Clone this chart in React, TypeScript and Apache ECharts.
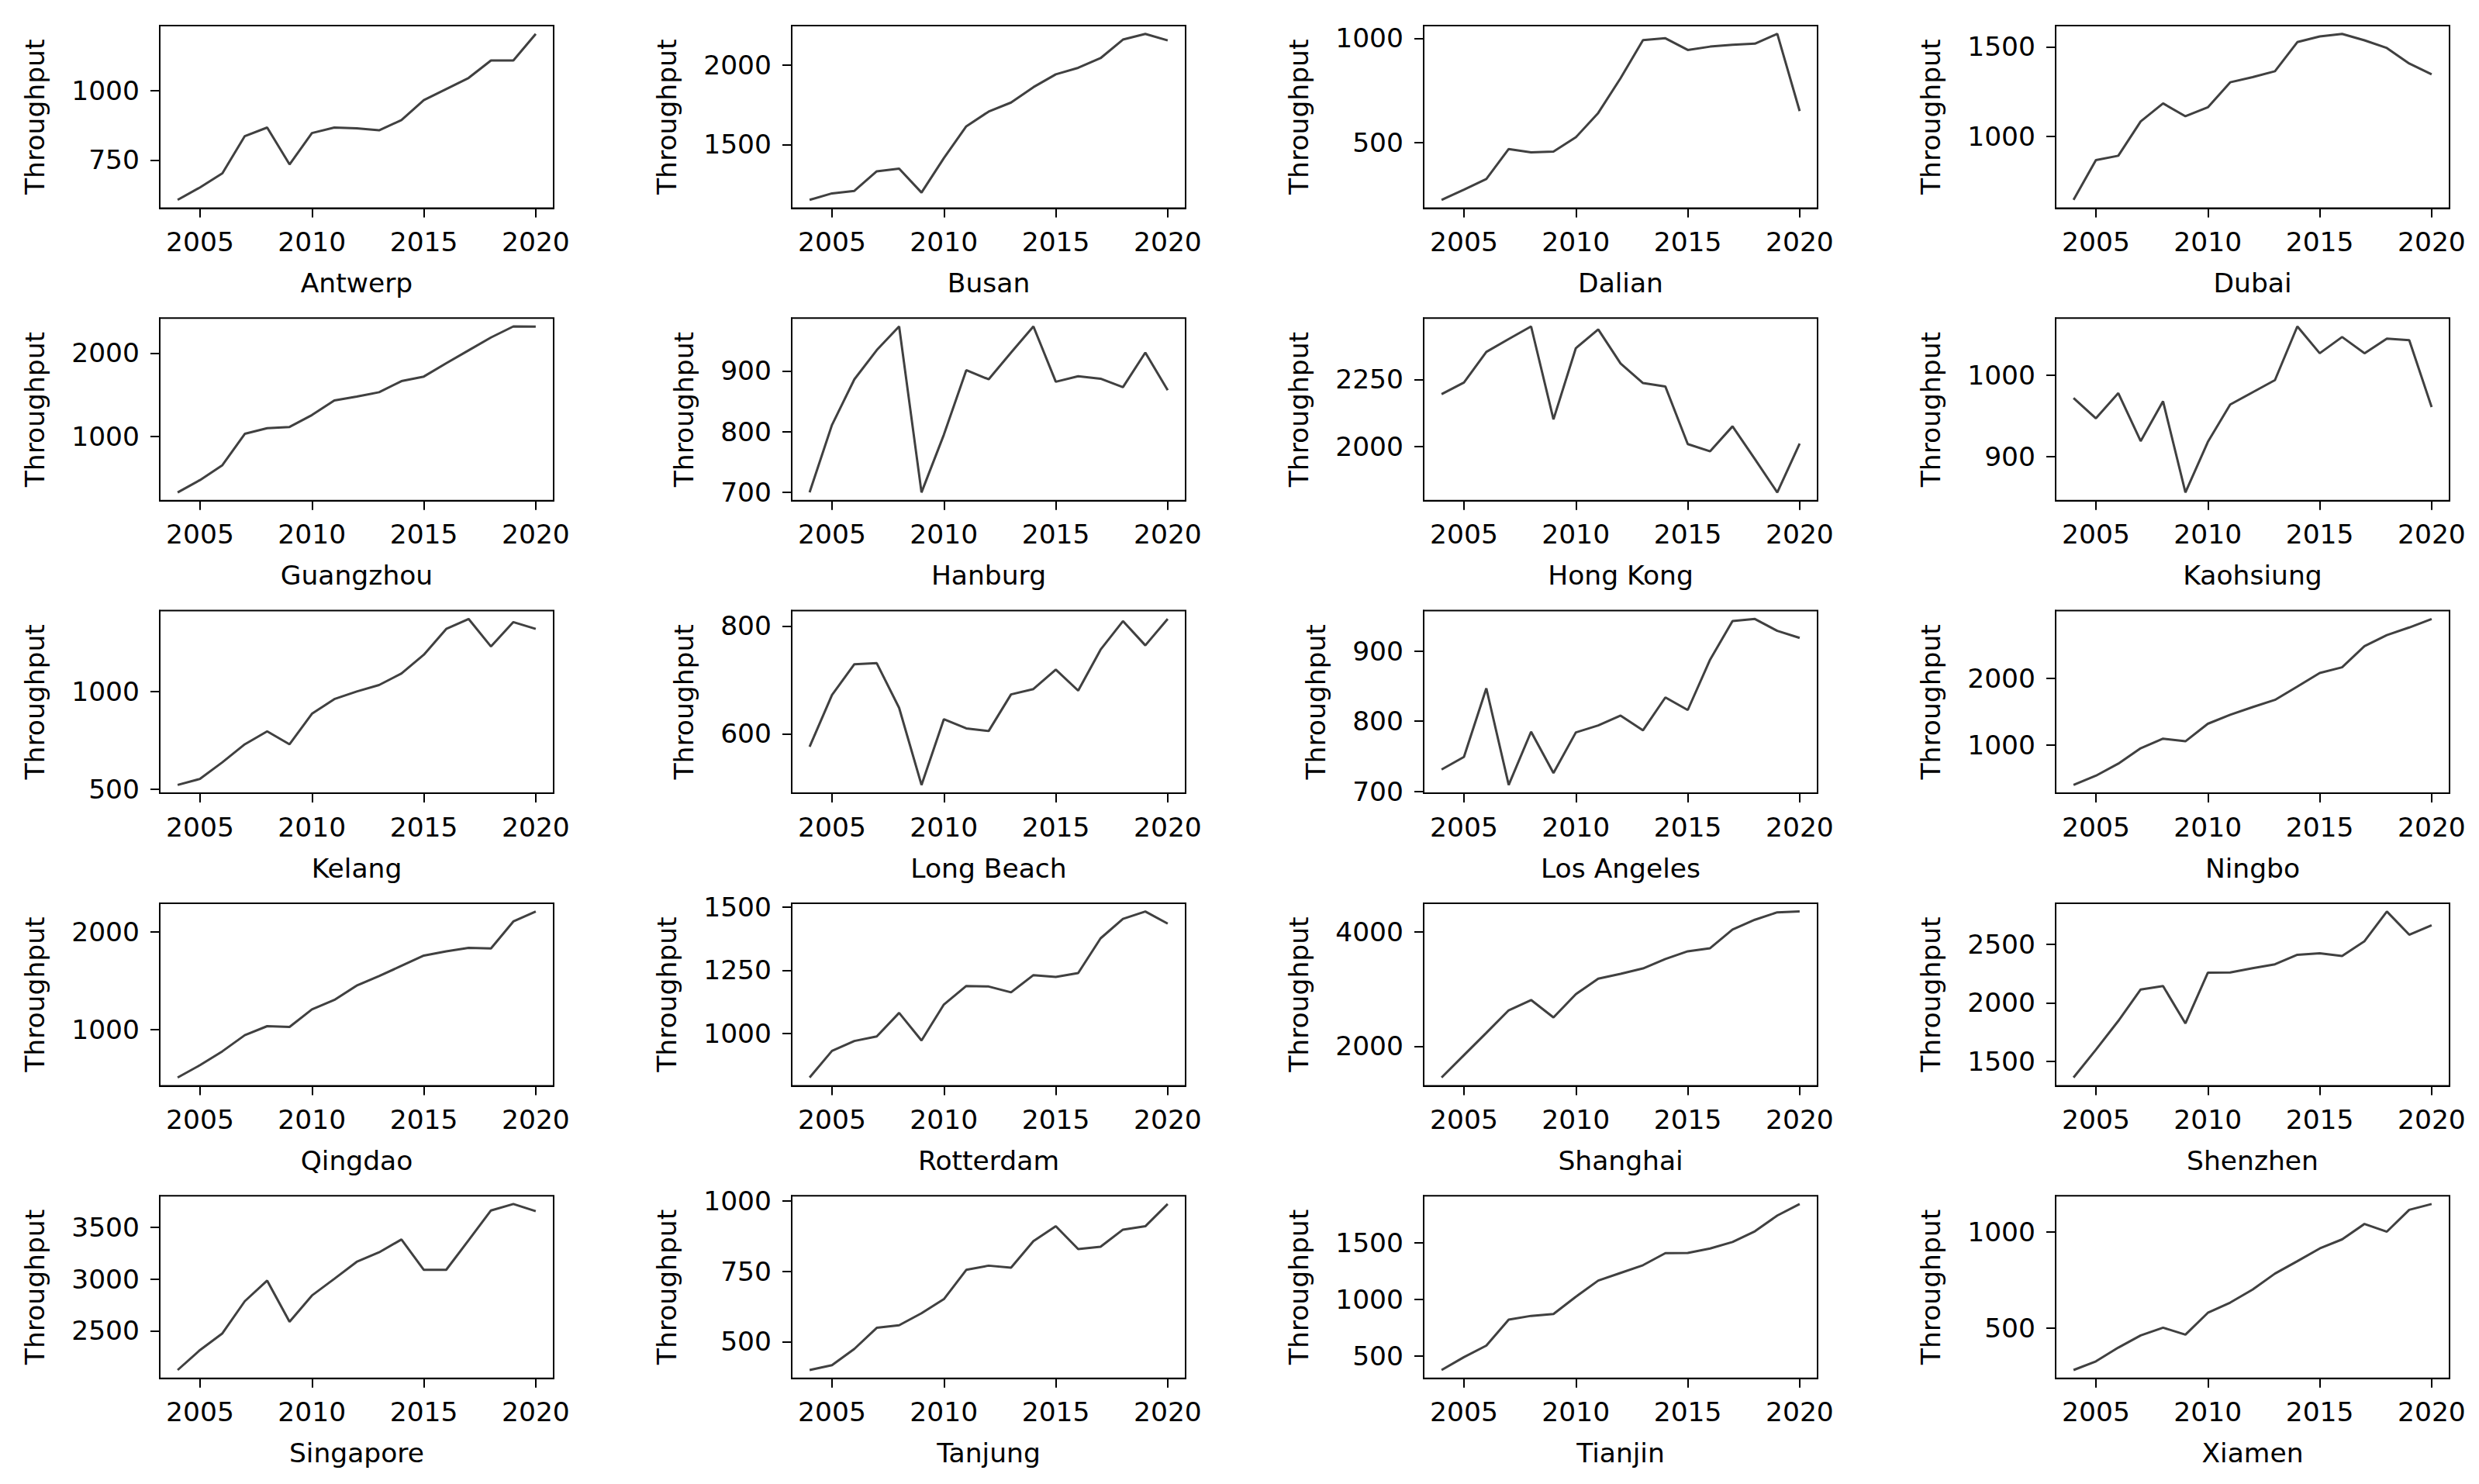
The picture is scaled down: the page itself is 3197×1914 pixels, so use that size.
import React, { useEffect, useRef } from "react";
import * as echarts from "echarts";

const years = [2004, 2005, 2006, 2007, 2008, 2009, 2010, 2011, 2012, 2013, 2014, 2015, 2016, 2017, 2018, 2019, 2020];
const xTicks = [2005, 2010, 2015, 2020];

const ports = [
  "Antwerp", "Busan", "Dalian", "Dubai",
  "Guangzhou", "Hanburg", "Hong Kong", "Kaohsiung",
  "Kelang", "Long Beach", "Los Angeles", "Ningbo",
  "Qingdao", "Rotterdam", "Shanghai", "Shenzhen",
  "Singapore", "Tanjung", "Tianjin", "Xiamen",
];

const antwerp = [606, 651, 702, 836, 867, 734, 847, 867, 864, 857, 894, 966, 1006, 1046, 1109, 1109, 1205];
const busan = [1151, 1192, 1208, 1331, 1348, 1197, 1415, 1615, 1708, 1765, 1862, 1943, 1984, 2045, 2162, 2198, 2157];
const dalian = [225, 274, 325, 469, 453, 457, 525, 642, 809, 991, 1000, 944, 960, 969, 974, 1021, 651];
const dubai = [643, 866, 890, 1082, 1183, 1111, 1161, 1301, 1330, 1363, 1526, 1558, 1572, 1536, 1493, 1406, 1346];
const guangzhou = [322, 471, 650, 1028, 1096, 1111, 1254, 1430, 1477, 1529, 1663, 1718, 1879, 2034, 2189, 2322, 2319];
const hanburg = [700, 811, 886, 934, 973, 700, 795, 901, 886, 930, 973, 882, 891, 887, 873, 930, 868];
const hongKong = [2195, 2238, 2352, 2400, 2447, 2101, 2366, 2436, 2309, 2236, 2223, 2009, 1982, 2075, 1953, 1829, 2011];
const kaohsiung = [972, 947, 978, 919, 968, 856, 918, 964, 979, 994, 1060, 1027, 1047, 1027, 1045, 1043, 961];
const kelang = [522, 553, 638, 730, 796, 730, 886, 961, 1000, 1033, 1092, 1188, 1320, 1371, 1230, 1355, 1320];
const longBeach = [576, 672, 729, 731, 648, 505, 627, 610, 605, 673, 683, 719, 680, 756, 809, 764, 813];
const losAngeles = [731, 749, 847, 709, 785, 726, 784, 794, 808, 787, 834, 816, 888, 943, 946, 929, 919];
const ningbo = [398, 537, 718, 950, 1093, 1054, 1317, 1452, 1568, 1676, 1876, 2081, 2166, 2483, 2649, 2764, 2892];
const qingdao = [509, 635, 777, 942, 1034, 1026, 1205, 1302, 1449, 1546, 1651, 1756, 1800, 1835, 1829, 2105, 2207];
const rotterdam = [827, 932, 971, 989, 1082, 973, 1115, 1188, 1186, 1163, 1231, 1224, 1239, 1376, 1453, 1482, 1434];
const shanghai = [1452, 1843, 2234, 2629, 2809, 2504, 2912, 3182, 3267, 3362, 3528, 3663, 3717, 4045, 4216, 4346, 4360];
const shenzhen = [1364, 1601, 1846, 2114, 2143, 1825, 2257, 2259, 2296, 2329, 2410, 2423, 2399, 2526, 2779, 2581, 2662];
const singapore = [2121, 2314, 2475, 2785, 2984, 2587, 2840, 3001, 3165, 3257, 3381, 3088, 3088, 3373, 3661, 3723, 3654];
const tanjung = [399, 416, 474, 549, 558, 601, 651, 755, 770, 763, 857, 910, 829, 837, 898, 910, 989];
const tianjin = [375, 489, 591, 820, 854, 870, 1023, 1166, 1234, 1302, 1409, 1411, 1450, 1507, 1602, 1741, 1843];
const xiamen = [284, 329, 400, 463, 503, 467, 580, 633, 700, 783, 847, 913, 960, 1040, 1000, 1113, 1143];

const seriesValues = [
  antwerp, busan, dalian, dubai,
  guangzhou, hanburg, hongKong, kaohsiung,
  kelang, longBeach, losAngeles, ningbo,
  qingdao, rotterdam, shanghai, shenzhen,
  singapore, tanjung, tianjin, xiamen,
];

const yTicks = [
  [750, 1000], [1500, 2000], [500, 1000], [1000, 1500],
  [1000, 2000], [700, 800, 900], [2000, 2250], [900, 1000],
  [500, 1000], [600, 800], [700, 800, 900], [1000, 2000],
  [1000, 2000], [1000, 1250, 1500], [2000, 4000], [1500, 2000, 2500],
  [2500, 3000, 3500], [500, 750, 1000], [500, 1000, 1500], [500, 1000],
];

const FONT = "DejaVu Sans";
const FS = 34.5;

export default function App() {
  const ref = useRef<HTMLDivElement>(null);

  useEffect(() => {
    if (!ref.current) return;
    const chart = echarts.init(ref.current, undefined, { renderer: "svg" });

    const grids: any[] = [];
    const xAxes: any[] = [];
    const yAxes: any[] = [];
    const series: any[] = [];

    const colLeft = 206;
    const colPitch = 815;
    const gW = 508;
    const rowTop = 33;
    const rowPitch = 377.3;
    const gH = 235.5;

    ports.forEach((name, i) => {
      const r = Math.floor(i / 4);
      const c = i % 4;
      const vals = seriesValues[i];
      const lo = Math.min(...vals);
      const hi = Math.max(...vals);
      const pad = (hi - lo) * 0.05;
      const ticks = yTicks[i];
      const digits = Math.max(...ticks.map((t) => String(t).length));

      grids.push({
        left: colLeft + c * colPitch,
        top: rowTop + r * rowPitch,
        width: gW,
        height: gH,
        show: true,
        borderColor: "#000",
        borderWidth: 2,
        backgroundColor: "transparent",
        containLabel: false,
      });

      xAxes.push({
        type: "value",
        gridIndex: i,
        min: 2003.2,
        max: 2020.8,
        splitLine: { show: false },
        axisLine: { show: true, onZero: false, lineStyle: { color: "#000", width: 2 } },
        axisTick: {
          show: true,
          inside: false,
          length: 12,
          lineStyle: { color: "#000", width: 2 },
          customValues: xTicks,
        },
        axisLabel: {
          customValues: xTicks,
          margin: 26,
          fontSize: FS,
          color: "#000",
          fontFamily: FONT,
          formatter: (v: number) => String(v),
        },
        name,
        nameLocation: "middle",
        nameGap: 79,
        nameTextStyle: { fontSize: FS, color: "#000", fontFamily: FONT },
      });

      yAxes.push({
        type: "value",
        gridIndex: i,
        min: lo - pad,
        max: hi + pad,
        splitLine: { show: false },
        axisLine: { show: true, onZero: false, lineStyle: { color: "#000", width: 2 } },
        axisTick: {
          show: true,
          inside: false,
          length: 12,
          lineStyle: { color: "#000", width: 2 },
          customValues: ticks,
        },
        axisLabel: {
          customValues: ticks,
          margin: 26,
          fontSize: FS,
          color: "#000",
          fontFamily: FONT,
          formatter: (v: number) => String(v),
        },
        name: "Throughput",
        nameLocation: "middle",
        nameGap: 56 + digits * 22,
        nameTextStyle: { fontSize: FS, color: "#000", fontFamily: FONT },
      });

      series.push({
        type: "line",
        xAxisIndex: i,
        yAxisIndex: i,
        data: years.map((y, j) => [y, vals[j]]),
        showSymbol: false,
        symbol: "none",
        silent: true,
        lineStyle: { color: "#404040", width: 3 },
      });
    });

    chart.setOption({
      animation: false,
      backgroundColor: "#ffffff",
      grid: grids,
      xAxis: xAxes,
      yAxis: yAxes,
      series,
    });

    return () => chart.dispose();
  }, []);

  return (
    <div
      ref={ref}
      style={{ position: "fixed", left: 0, top: 0, width: "3197px", height: "1914px", background: "#fff" }}
    />
  );
}
